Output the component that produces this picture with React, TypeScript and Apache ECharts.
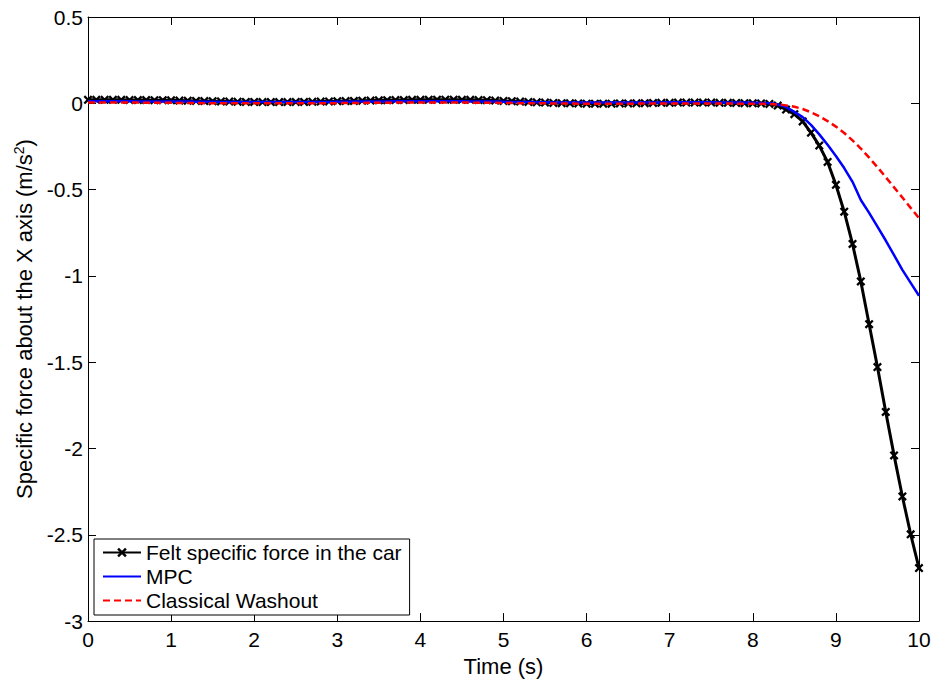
import React, { useEffect, useRef } from "react";
import * as echarts from "echarts";

const xTicks = [0, 1, 2, 3, 4, 5, 6, 7, 8, 9, 10];
const yTicks = [-3, -2.5, -2, -1.5, -1, -0.5, 0, 0.5];

// sample times (s): 0.0, 0.1, ..., 10.0
const time: number[] = Array.from({ length: 101 }, (_, i) => Math.round(i) / 10);

const feltForce = [
  0.020, 0.020, 0.020, 0.020, 0.020, 0.019, 0.019, 0.019, 0.018, 0.018,
  0.017, 0.016, 0.015, 0.014, 0.013, 0.012, 0.011, 0.010, 0.009, 0.008,
  0.008, 0.007, 0.007, 0.007, 0.007, 0.008, 0.008, 0.009, 0.010, 0.011,
  0.012, 0.013, 0.014, 0.015, 0.016, 0.017, 0.018, 0.019, 0.019, 0.020,
  0.020, 0.021, 0.021, 0.021, 0.021, 0.020, 0.020, 0.019, 0.018, 0.016,
  0.014, 0.012, 0.010, 0.008, 0.006, 0.004, 0.002, 0.001, 0.000, -0.001,
  -0.002, -0.002, -0.002, -0.002, -0.001, -0.001, 0.000, 0.001, 0.002, 0.003,
  0.003, 0.004, 0.004, 0.004, 0.004, 0.004, 0.003, 0.003, 0.002, 0.001,
  0.000, -0.001, -0.004, -0.013, -0.036, -0.063, -0.105, -0.170, -0.245, -0.340,
  -0.472, -0.628, -0.815, -1.032, -1.28, -1.528, -1.788, -2.04, -2.278, -2.497,
  -2.693,
];

const mpc = [
  0.012, 0.012, 0.012, 0.012, 0.012, 0.012, 0.011, 0.011, 0.011, 0.011,
  0.010, 0.010, 0.010, 0.009, 0.009, 0.009, 0.008, 0.008, 0.008, 0.008,
  0.007, 0.007, 0.007, 0.007, 0.007, 0.007, 0.007, 0.008, 0.008, 0.008,
  0.009, 0.009, 0.010, 0.010, 0.011, 0.011, 0.011, 0.012, 0.012, 0.012,
  0.012, 0.012, 0.012, 0.012, 0.012, 0.012, 0.011, 0.011, 0.010, 0.010,
  0.009, 0.008, 0.008, 0.007, 0.006, 0.006, 0.005, 0.005, 0.004, 0.004,
  0.004, 0.004, 0.004, 0.004, 0.004, 0.004, 0.005, 0.005, 0.005, 0.005,
  0.006, 0.006, 0.006, 0.006, 0.006, 0.006, 0.005, 0.005, 0.005, 0.004,
  0.003, 0.002, 0.000, -0.006, -0.022, -0.050, -0.080, -0.125, -0.180, -0.240,
  -0.305, -0.375, -0.455, -0.560, -0.635, -0.715, -0.795, -0.880, -0.965, -1.040,
  -1.115,
];

const washout = [
  0.004, 0.004, 0.004, 0.004, 0.004, 0.004, 0.004, 0.003, 0.003, 0.003,
  0.003, 0.002, 0.002, 0.002, 0.001, 0.001, 0.001, 0.001, 0.000, 0.000,
  0.000, 0.000, 0.000, 0.000, 0.000, 0.000, 0.000, 0.000, 0.001, 0.001,
  0.001, 0.002, 0.002, 0.002, 0.003, 0.003, 0.003, 0.004, 0.004, 0.004,
  0.004, 0.004, 0.004, 0.004, 0.004, 0.004, 0.004, 0.003, 0.003, 0.003,
  0.002, 0.002, 0.001, 0.001, 0.000, 0.000, -0.001, -0.001, -0.001, -0.002,
  -0.002, -0.002, -0.002, -0.002, -0.002, -0.002, -0.002, -0.001, -0.001, -0.001,
  -0.001, -0.001, -0.001, -0.001, -0.001, -0.001, -0.001, -0.001, -0.002, -0.002,
  -0.002, -0.003, -0.004, -0.007, -0.012, -0.020, -0.033, -0.052, -0.075, -0.103,
  -0.135, -0.172, -0.215, -0.262, -0.315, -0.370, -0.428, -0.487, -0.546, -0.606,
  -0.665,
];

const seriesNames = ["Felt specific force in the car", "MPC", "Classical Washout"];

const FONT = "'Liberation Sans', Arial, Helvetica, sans-serif";
const X_MARK = "path://M0,1.8L1.8,0L5,3.2L8.2,0L10,1.8L6.8,5L10,8.2L8.2,10L5,6.8L1.8,10L0,8.2L3.2,5Z";

export default function App() {
  const ref = useRef<HTMLDivElement>(null);
  useEffect(() => {
    if (!ref.current) return;
    const chart = echarts.init(ref.current, undefined, { renderer: "svg" });
    const pairs = (vals: number[]) => time.map((t, i) => [t, vals[i]]);
    const axisCommon = {
      axisLine: { show: true, onZero: false, lineStyle: { color: "#000", width: 1 } },
      axisTick: { show: true, inside: true, length: 8, lineStyle: { color: "#000", width: 1 } },
      splitLine: { show: false },
    };
    chart.setOption({
      animation: false,
      backgroundColor: "#fff",
      textStyle: { fontFamily: FONT },
      grid: { left: 88, right: 17, top: 17, bottom: 58, containLabel: false },
      legend: {
        data: [
          { name: seriesNames[0] },
          { name: seriesNames[1], itemStyle: { opacity: 0 } },
          { name: seriesNames[2], itemStyle: { opacity: 0 } },
        ],
        orient: "vertical",
        left: 94,
        top: 539,
        padding: [3, 8, 4, 8],
        itemGap: 3,
        itemWidth: 38,
        itemHeight: 12,
        borderColor: "#000",
        borderWidth: 1,
        borderRadius: 0,
        backgroundColor: "#fff",
        textStyle: { fontSize: 21, color: "#000", fontFamily: FONT },
      },
      xAxis: [
        {
          type: "value",
          min: xTicks[0],
          max: xTicks[xTicks.length - 1],
          interval: 1,
          name: "Time (s)",
          nameLocation: "middle",
          nameGap: 29,
          nameTextStyle: { fontSize: 22, color: "#000", fontFamily: FONT },
          axisLabel: { fontSize: 21, color: "#000", margin: 8, fontFamily: FONT },
          ...axisCommon,
        },
        {
          type: "value",
          position: "top",
          min: xTicks[0],
          max: xTicks[xTicks.length - 1],
          interval: 1,
          axisLabel: { show: false },
          ...axisCommon,
        },
      ],
      yAxis: [
        {
          type: "value",
          min: yTicks[0],
          max: yTicks[yTicks.length - 1],
          interval: 0.5,
          name: "Specific force about the X axis (m/s{sup|2})",
          nameLocation: "middle",
          nameGap: 46,
          nameTextStyle: {
            fontSize: 22,
            color: "#000",
            fontFamily: FONT,
            rich: {
              sup: { fontSize: 14, color: "#000", fontFamily: FONT, padding: [0, 0, 12, 0] },
            },
          },
          axisLabel: { fontSize: 21, color: "#000", margin: 5, fontFamily: FONT },
          ...axisCommon,
        },
        {
          type: "value",
          position: "right",
          min: yTicks[0],
          max: yTicks[yTicks.length - 1],
          interval: 0.5,
          axisLabel: { show: false },
          ...axisCommon,
        },
      ],
      series: [
        {
          name: seriesNames[0],
          type: "line",
          data: pairs(feltForce),
          xAxisIndex: 0,
          yAxisIndex: 0,
          symbol: X_MARK,
          symbolSize: 9,
          showSymbol: true,
          showAllSymbol: true,
          itemStyle: { color: "#000" },
          lineStyle: { color: "#000", width: 3 },
          z: 2,
        },
        {
          name: seriesNames[1],
          type: "line",
          data: pairs(mpc),
          symbol: "none",
          lineStyle: { color: "#0000ff", width: 2.5 },
          itemStyle: { color: "#0000ff" },
          z: 3,
        },
        {
          name: seriesNames[2],
          type: "line",
          data: pairs(washout),
          symbol: "none",
          lineStyle: { color: "#ff0000", width: 2.5, type: [7, 4] },
          itemStyle: { color: "#ff0000" },
          z: 4,
        },
      ],
    });
    return () => chart.dispose();
  }, []);
  return (
    <div
      ref={ref}
      style={{ position: "fixed", left: 0, top: 0, width: 936, height: 682, background: "#fff" }}
    />
  );
}
